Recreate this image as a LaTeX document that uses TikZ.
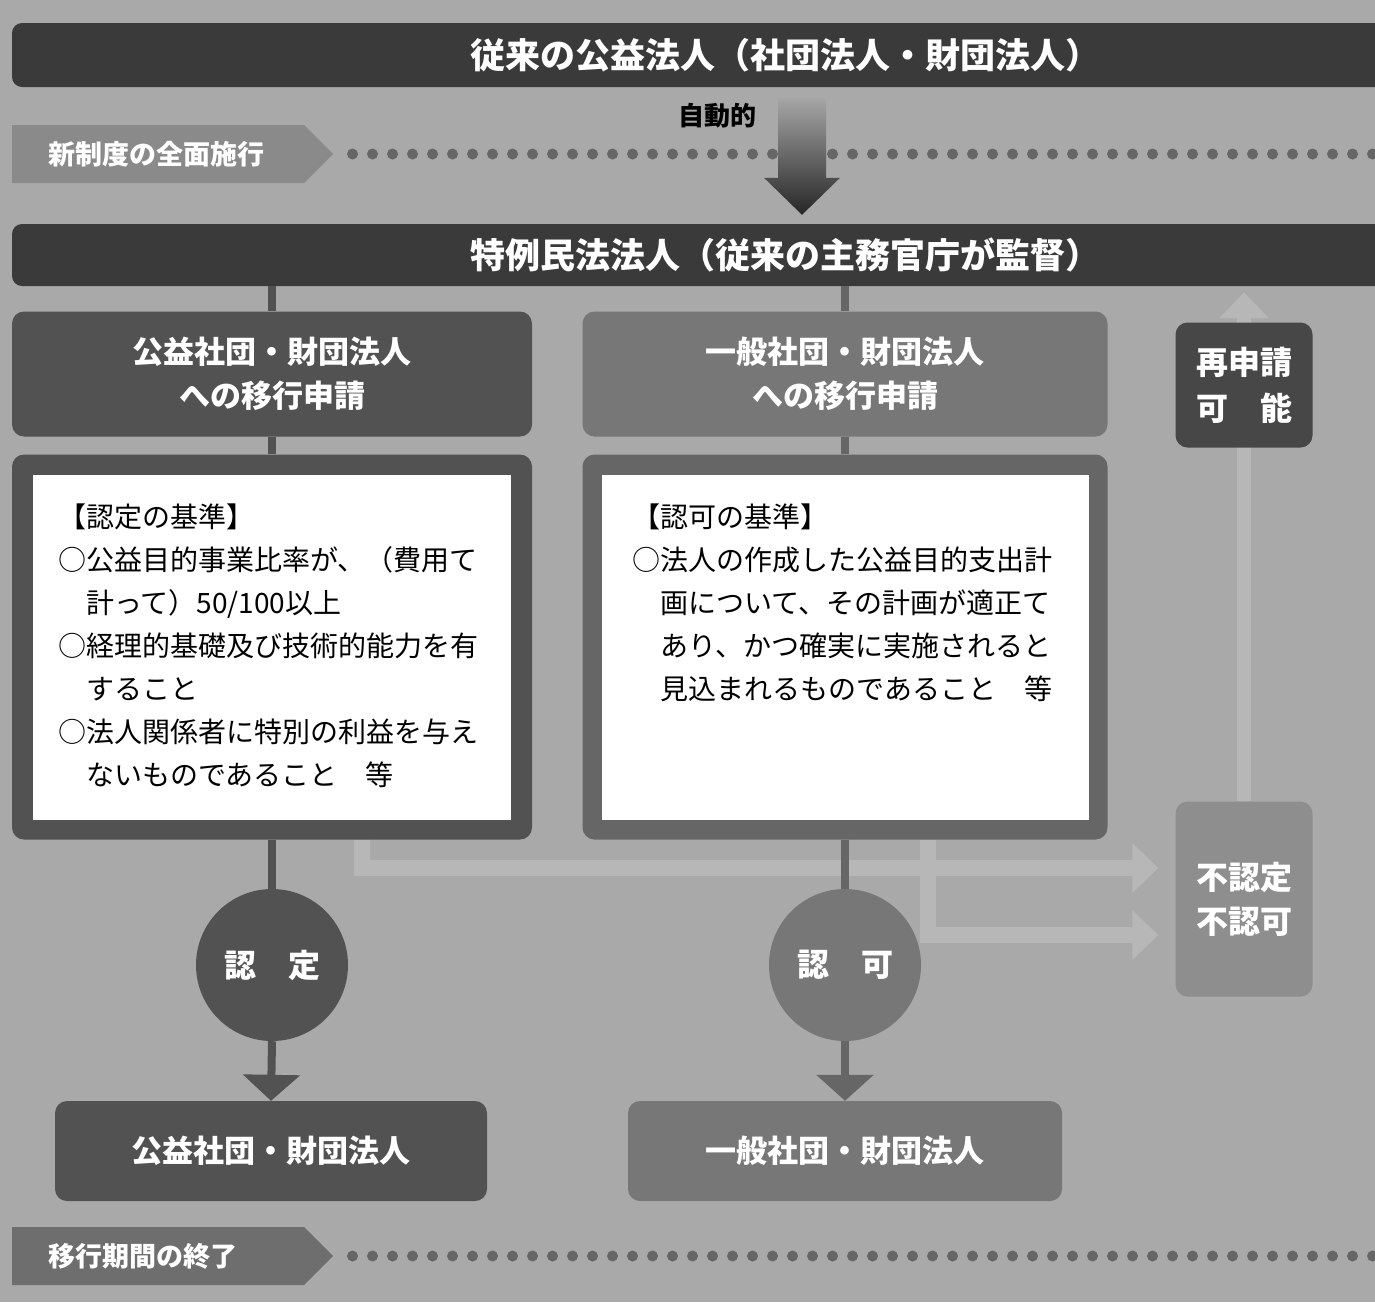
\documentclass[tikz,border=0pt]{standalone}
\usepackage{fontspec}
\setmainfont{Noto Sans CJK JP}
\usetikzlibrary{arrows.meta,shapes.symbols,calc}
\definecolor{bgc}{HTML}{A9A9A9}
\definecolor{barc}{HTML}{3A3A3A}
\definecolor{darkc}{HTML}{525252}
\definecolor{midc}{HTML}{777777}
\definecolor{framec}{HTML}{666666}
\definecolor{stepc}{HTML}{8A8A8A}
\definecolor{endc}{HTML}{6E6E6E}
\definecolor{dotc}{HTML}{666666}
\definecolor{reac}{HTML}{474747}
\definecolor{rejc}{HTML}{8E8E8E}
\definecolor{lightc}{HTML}{B7B7B7}
\pgfdeclarelayer{back}
\pgfsetlayers{back,main}
\tikzset{
  bar/.style={fill=barc, rounded corners=10pt, text=white, inner sep=0pt,
    font=\bfseries\fontsize{35}{40}\selectfont},
  stage/.style={fill=#1, rounded corners=12pt, text=white, align=center, inner sep=0pt,
    font=\bfseries\fontsize{31}{44}\selectfont},
  frame/.style={fill=#1, rounded corners=12pt, inner sep=0pt},
  panel/.style={fill=white, inner sep=0pt, minimum height=345pt},
  crit/.style={anchor=north west, align=left, inner sep=0pt, font=\fontsize{28}{43}\selectfont},
  judge/.style={circle, fill=#1, minimum size=152pt, inner sep=0pt, text=white,
    font=\bfseries\fontsize{32}{36}\selectfont},
  phase/.style={signal, signal to=east, signal pointer angle=90, fill=#1, text=white,
    minimum height=58pt, inner ysep=0pt, inner xsep=36pt, text width=220pt, align=left,
    font=\bfseries\fontsize{27}{30}\selectfont},
  link/.style={draw=#1, line width=8pt},
  flow/.style={draw=#1, line width=8pt, -{Triangle[length=26pt,width=56pt]}},
  fail/.style={draw=lightc, line width=16pt, -{Triangle[length=26pt,width=48pt]}},
  autoshade/.style={top color=black!35, bottom color=black!85}
}
\begin{document}
\begin{tikzpicture}[x=1pt, y=-1pt]
\useasboundingbox (0,0) rectangle (1375,1302);
\begin{pgfonlayer}{back}
\fill[bgc] (0,0) rectangle (1375,1302);
\end{pgfonlayer}

% time marks
\node[phase=stepc, anchor=west] (newlaw) at (12,154) {新制度の全面施行};
\node[phase=endc, anchor=west] (transend) at (12,1256) {移行期間の終了};
\foreach \k in {0,...,51} {
  \fill[dotc] ($(newlaw.east)+(19+20*\k,0)$) circle (5.5pt);
  \fill[dotc] ($(transend.east)+(19+20*\k,0)$) circle (5.5pt);
}

% bars
\node[bar, minimum width=1546pt, minimum height=64pt] (oldcorp) at (785,55) {従来の公益法人（社団法人・財団法人）};
\node[bar, minimum width=1546pt, minimum height=62pt] (special) at (785,255) {特例民法法人（従来の主務官庁が監督）};
\node[font=\bfseries\fontsize{26}{30}\selectfont, inner sep=0pt] (autolbl) at (717,116) {自動的};

% automatic transfer
\path (oldcorp.south) ++(17,11) coordinate (autotop);
\path (special.north) ++(17,-9) coordinate (autotip);
\shade[autoshade] ([xshift=-24pt]autotop) -- ([xshift=24pt]autotop)
  -- ([xshift=24pt,yshift=37pt]autotip) -- ([xshift=38pt,yshift=37pt]autotip) -- (autotip)
  -- ([xshift=-38pt,yshift=37pt]autotip) -- ([xshift=-24pt,yshift=37pt]autotip) -- cycle;

% applications
\node[stage=darkc, minimum width=520pt, minimum height=125pt] (pubapply) at (272,374) {公益社団・財団法人\\への移行申請};
\node[stage=midc, minimum width=525pt, minimum height=125pt] (genapply) at (845,374) {一般社団・財団法人\\への移行申請};

% criteria
\node[frame=darkc, minimum width=520pt, minimum height=385pt] (pubcrit) at (272,647) {};
\node[frame=framec, minimum width=525pt, minimum height=385pt] (gencrit) at (845,647) {};
\node[panel, minimum width=478pt] (pubpanel) at (pubcrit) {};
\node[panel, minimum width=487pt] (genpanel) at (gencrit) {};
\node[crit] (pubtext) at ([shift={(25,29)}]pubpanel.north west) {【認定の基準】\\○公益目的事業比率が、（費用て\\\hspace*{1em}計って）50/100以上\\○経理的基礎及び技術的能力を有\\\hspace*{1em}すること\\○法人関係者に特別の利益を与え\\\hspace*{1em}ないものであること　等};
\node[crit] (gentext) at ([shift={(31,29)}]genpanel.north west) {【認可の基準】\\○法人の作成した公益目的支出計\\\hspace*{1em}画について、その計画が適正て\\\hspace*{1em}あり、かつ確実に実施されると\\\hspace*{1em}見込まれるものであること　等};

% decisions
\node[judge=darkc] (nintei) at (272,965) {認　定};
\node[judge=midc] (ninka) at (845,965) {認　可};
\node[stage=darkc, minimum width=432pt, minimum height=100pt] (pubcorp) at (271,1151) {公益社団・財団法人};
\node[stage=midc, minimum width=434pt, minimum height=100pt] (gencorp) at (845,1151) {一般社団・財団法人};

% refusal and retry
\node[stage=reac, minimum width=137pt, minimum height=125pt, font=\bfseries\fontsize{32}{46}\selectfont] (reapply) at (1244,385) {再申請\\可　能};
\node[stage=rejc, minimum width=137pt, minimum height=195pt, font=\bfseries\fontsize{32}{44}\selectfont] (reject) at (1244,899) {不認定\\不認可};
\begin{pgfonlayer}{back}
\draw[fail, line width=14pt] (reject.north) -- ([yshift=30pt]reapply.north);
\end{pgfonlayer}
\draw[fail, shorten >=17pt] ([xshift=90pt]pubcrit.south) |- ([yshift=31pt]reject.west);
\draw[fail, shorten >=17pt] ([xshift=83pt]gencrit.south) |- ([yshift=-36pt]reject.west);

% links
\draw[link=darkc] (pubapply.north |- special.south) -- (pubapply.north);
\draw[link=darkc] (pubapply.south) -- (pubcrit.north);
\draw[link=darkc] (pubcrit.south) -- (nintei.north);
\draw[flow=darkc] (nintei.south) -- (pubcorp.north);
\draw[link=framec] (genapply.north |- special.south) -- (genapply.north);
\draw[link=framec] (genapply.south) -- (gencrit.north);
\draw[link=framec] (gencrit.south) -- (ninka.north);
\draw[flow=framec] (ninka.south) -- (gencorp.north);
\end{tikzpicture}
\end{document}
